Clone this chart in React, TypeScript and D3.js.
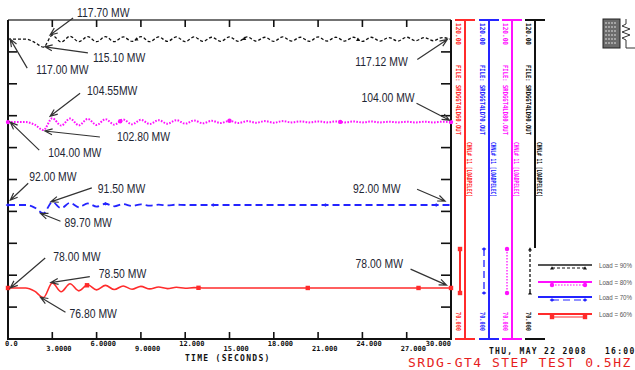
import React from "react";
import * as d3 from "d3";

// sample times (seconds) shared by all four channels
const time = [
  0, 1.2, 1.8, 2.4, 3.0, 3.6, 4.2, 4.8, 5.4, 6.0, 6.6, 7.2, 7.8, 8.4, 9.0, 9.6, 10.2, 10.8, 11.4, 12.0,
  12.6, 13.2, 13.8, 14.4, 15.0, 15.6, 16.2, 16.8, 17.4, 18.0, 18.6, 19.2, 19.8, 20.4, 21.0, 21.6, 22.2,
  22.8, 23.4, 24.0, 24.6, 25.2, 25.8, 26.4, 27.0, 27.6, 28.2, 28.8, 29.4, 30.0,
];

// electrical load (MW) per channel
const load90 = [
  117.0, 117.0, 116.5, 115.75, 117.6, 116.55, 117.45, 116.6, 117.4, 116.6, 117.4, 116.6, 117.35, 116.65,
  117.4, 116.6, 117.35, 116.65, 117.35, 116.6, 117.35, 116.65, 117.3, 116.65, 117.35, 116.65, 117.35, 116.7,
  117.3, 116.65, 117.35, 116.7, 117.3, 116.65, 117.35, 116.7, 117.3, 116.7, 117.3, 116.65, 117.3,
  116.7, 117.25, 116.7, 117.3, 116.75, 117.25, 116.75, 117.25, 116.95,
];
const load80 = [
  104.0, 104.0, 103.6, 102.75, 104.6, 103.45, 104.55, 103.5, 104.5, 103.55, 104.45, 103.6, 104.4, 103.65,
  104.35, 103.7, 104.3, 103.75, 104.3, 103.75, 104.25, 103.8, 104.2, 103.85, 104.2, 103.85, 104.15, 103.9,
  104.15, 103.9, 104.15, 103.95, 104.1, 103.95, 104.1, 103.95, 104.1, 103.95, 104.1, 103.95, 104.1,
  103.95, 104.05, 103.95, 104.05, 103.95, 104.05, 103.95, 104.05, 104.0,
];
const load70 = [
  91.0, 91.0, 90.6, 89.7, 91.5, 90.5, 91.35, 90.65, 91.25, 90.75, 91.2, 90.8, 91.15, 90.85, 91.1, 90.9,
  91.05, 90.95, 91.05, 91.0, 91.0, 91.0, 91.0, 91.0, 91.0, 91.0, 91.0, 91.0, 91.0, 91.0, 91.0, 91.0, 91.0,
  91.0, 91.0, 91.0, 91.0, 91.0, 91.0, 91.0, 91.0, 91.0, 91.0, 91.0, 91.0, 91.0, 91.0, 91.0, 91.0, 91.0,
];
const load60 = [
  78.0, 78.0, 77.5, 76.5, 78.8, 77.4, 78.65, 77.55, 78.5, 77.7, 78.4, 77.75, 78.3, 77.8, 78.25, 77.85,
  78.15, 77.9, 78.1, 77.95, 78.05, 78.0, 78.0, 78.0, 78.0, 78.0, 78.0, 78.0, 78.0, 78.0, 78.0, 78.0, 78.0,
  78.0, 78.0, 78.0, 78.0, 78.0, 78.0, 78.0, 78.0, 78.0, 78.0, 78.0, 78.0, 78.0, 78.0, 78.0, 78.0, 78.0,
];

// symbol positions along each trace (seconds)
const marks60 = [0, 5.35, 12.9, 20.3, 27.8, 30];
const marks70 = [0, 6.6, 13.9, 21.5, 29.0];
const marks80 = [0, 7.6, 15.0, 22.5, 30];
const marks90 = [8.7, 16.0, 23.7];

const xTickValues = [0, 3, 6, 9, 12, 15, 18, 21, 24, 27, 30];
const xTickLabels = ["0.0", "3.0000", "6.0000", "9.0000", "12.000", "15.000", "18.000", "21.000", "24.000", "27.000", "30.000"];
const yTickValues = [75, 80, 85, 90, 95, 100, 105, 110, 115];

const channelNames = ["Load = 60%", "Load = 70%", "Load = 80%", "Load = 90%"];
const channelFiles = ["FILE: SRDGGT4LD60.OUT", "FILE: SRDGGT4LD70.OUT", "FILE: SRDGGT4LD80.OUT", "FILE: SRDGGT4LD90.OUT"];
const channelLabel = "CHNL# 11 [LOADPELEC]";
const axisMax = "120.00";
const axisMin = "70.000";

// callouts: text, point in data (seconds, MW)
const calloutText = [
  "117.70 MW", "115.10 MW", "117.00 MW", "104.55MW", "104.00 MW", "102.80 MW", "92.00 MW", "91.50 MW",
  "89.70 MW", "78.00 MW", "78.50 MW", "76.80 MW", "117.12 MW", "104.00 MW", "92.00 MW", "78.00 MW",
];
const calloutTime = [2.85, 2.5, 0.15, 2.85, 0.15, 2.5, 0.15, 2.9, 2.2, 0.15, 2.9, 2.2, 29.75, 29.9, 29.6, 29.7];
const calloutValue = [117.65, 115.8, 117.0, 104.9, 104.0, 102.6, 91.75, 91.5, 89.7, 78.0, 78.85, 76.55, 116.95, 104.3, 91.6, 78.45];

// pixel offsets from arrow head: [tailDx, tailDy, textDx, textDy]
const calloutLayout = [
  [23, -17, 27, -18], [43, 6, 48, 15], [17, 29, 26, 35], [30, -23, 37, -21],
  [29, 28, 38, 35], [55, 6, 72, 10], [18, -17, 19, -19], [41, -14, 47, -9],
  [20, 8, 24, 14], [35, -30, 43, -27], [39, -6, 48, -5], [25, 15, 29, 21],
  [-30, 20, -92, 27], [-33, -17, -88, -18], [-28, -12, -92, -8], [-36, -16, -91, -17],
];

const styles = [
  { color: "#ff2b2b", width: 1.6, dash: undefined as string | undefined, marker: "square", lineX: 465 },
  { color: "#2424ff", width: 1.8, dash: "7,4", marker: "diamond", lineX: 489 },
  { color: "#ff10ff", width: 2, dash: "1.6,1.4", marker: "dot", lineX: 512 },
  { color: "#111111", width: 1.3, dash: "3,2", marker: "tri", lineX: 535 },
];

const mono = "'DejaVu Sans Mono', monospace";
const sans = "'Liberation Sans', Arial, sans-serif";

function Arrow({ x1, y1, x2, y2 }: { x1: number; y1: number; x2: number; y2: number }) {
  const a = Math.atan2(y2 - y1, x2 - x1);
  const L = 8;
  const s = 0.38;
  const p1 = [x2 - L * Math.cos(a - s), y2 - L * Math.sin(a - s)];
  const p2 = [x2 - L * Math.cos(a + s), y2 - L * Math.sin(a + s)];
  return (
    <path
      d={`M${x1},${y1}L${x2},${y2}M${p1[0]},${p1[1]}L${x2},${y2}L${p2[0]},${p2[1]}`}
      fill="none"
      stroke="#333"
      strokeWidth={1.2}
    />
  );
}

function Marker({ kind, cx, cy, color }: { kind: string; cx: number; cy: number; color: string }) {
  if (kind === "square") return <rect x={cx - 2.2} y={cy - 2.2} width={4.4} height={4.4} fill={color} />;
  if (kind === "dot") return <circle cx={cx} cy={cy} r={2.2} fill={color} />;
  if (kind === "diamond")
    return <path d={`M${cx - 2.4},${cy}L${cx},${cy - 1.8}L${cx + 2.4},${cy}L${cx},${cy + 1.8}Z`} fill={color} />;
  return <path d={`M${cx - 2},${cy + 1.6}L${cx},${cy - 1.8}L${cx + 2},${cy + 1.6}Z`} fill={color} />;
}

export default function App() {
  const x = d3.scaleLinear().domain([0, 30]).range([8, 451]);
  const y = d3.scaleLinear().domain([70, 120]).range([339, 20]);

  const series = [load60, load70, load80, load90];
  const marks = [marks60, marks70, marks80, marks90];

  const line = d3
    .line<number>()
    .x((_, i) => x(time[i]))
    .y((d) => y(d))
    .curve(d3.curveMonotoneX);

  const valueAt = (vals: number[], t: number) => {
    const i = Math.min(Math.max(d3.bisectRight(time, t), 1), time.length - 1);
    const f = (t - time[i - 1]) / (time[i] - time[i - 1]);
    return vals[i - 1] + (vals[i] - vals[i - 1]) * Math.min(Math.max(f, 0), 1);
  };

  const legendY = [314, 297, 282, 265];

  return (
    <div style={{ position: "fixed", left: 0, top: 0 }}>
      <svg width={635} height={370} style={{ display: "block", background: "#fff" }}>
        {/* frame */}
        <line x1={8} x2={451} y1={20} y2={20} stroke="#444" strokeWidth={1.5} />
        <line x1={8} x2={451} y1={339} y2={339} stroke="#111" strokeWidth={2} />
        <line x1={8} x2={8} y1={20} y2={340} stroke="#111" strokeWidth={2} />
        <line x1={451} x2={451} y1={20} y2={340} stroke="#111" strokeWidth={2} />

        {xTickValues.slice(1, -1).map((t) => (
          <g key={`xt${t}`} stroke="#111" strokeWidth={1.6}>
            <line x1={x(t)} x2={x(t)} y1={20} y2={27} />
            <line x1={x(t)} x2={x(t)} y1={339} y2={332} />
          </g>
        ))}
        {yTickValues.map((v) => (
          <g key={`yt${v}`} stroke="#111" strokeWidth={1.6}>
            <line x1={8} x2={17} y1={y(v)} y2={y(v)} />
            <line x1={451} x2={441} y1={y(v)} y2={y(v)} />
          </g>
        ))}

        {xTickValues.map((t, i) => (
          <text
            key={`xl${t}`}
            x={i === xTickValues.length - 1 ? x(t) : Math.max(x(t) - 6, 5)}
            y={i % 2 === 0 ? 346 : 351}
            textAnchor={i === xTickValues.length - 1 ? "end" : "start"}
            fontFamily={mono}
            fontWeight="bold"
            fontSize={7}
            fill="#111"
          >
            {xTickLabels[i]}
          </text>
        ))}
        <text x={185} y={361} fontFamily={mono} fontWeight="bold" fontSize={8} letterSpacing={1.3} fill="#111">
          TIME (SECONDS)
        </text>

        {/* traces */}
        {series.map((vals, k) => (
          <g key={`s${k}`}>
            <path
              d={line(vals) ?? ""}
              fill="none"
              stroke={styles[k].color}
              strokeWidth={styles[k].width}
              strokeDasharray={styles[k].dash}
            />
            {marks[k].map((t) => (
              <Marker key={t} kind={styles[k].marker} cx={x(t)} cy={y(valueAt(vals, t))} color={styles[k].color} />
            ))}
          </g>
        ))}

        {/* callouts */}
        {calloutText.map((txt, i) => {
          const hx = x(calloutTime[i]);
          const hy = y(calloutValue[i]);
          const [tdx, tdy, ldx, ldy] = calloutLayout[i];
          return (
            <g key={`c${i}`}>
              <Arrow x1={hx + tdx} y1={hy + tdy} x2={hx} y2={hy} />
              <text
                transform={`translate(${hx + ldx},${hy + ldy}) scale(0.8,1)`}
                fontFamily={sans}
                fontSize={13}
                fill="#1e2633"
              >
                {txt}
              </text>
            </g>
          );
        })}

        {/* channel axes on the right */}
        {styles.map((s, k) => {
          const lx = s.lineX;
          const bottom = k === 3 ? 248 : 339;
          const sx = lx - 5;
          const rot = (tx: number, ty: number, str: string, len: number, key: string) => (
            <text
              key={key}
              transform={`translate(${tx},${ty}) rotate(90)`}
              fontFamily={mono}
              fontWeight="bold"
              fontSize={7}
              fill={s.color}
              textLength={len}
              lengthAdjust="spacingAndGlyphs"
            >
              {str}
            </text>
          );
          return (
            <g key={`ch${k}`}>
              <line x1={lx - 10} x2={lx + 10} y1={20} y2={20} stroke={s.color} strokeWidth={2} />
              <line x1={lx - 10} x2={lx + 10} y1={339} y2={339} stroke={s.color} strokeWidth={2} />
              <line x1={lx} x2={lx} y1={20} y2={bottom} stroke={s.color} strokeWidth={2} />
              {rot(lx - 9.5, 23, axisMax, 22, "a")}
              {rot(lx - 9.5, 65, channelFiles[k], 70, "f")}
              {rot(lx + 1.5, 142, channelLabel, 55, "c")}
              {rot(lx - 9.5, 312, axisMin, 19, "b")}
              <line
                x1={sx}
                x2={sx}
                y1={249}
                y2={293}
                stroke={s.color}
                strokeWidth={k === 0 ? 2 : 1.3}
                strokeDasharray={s.dash}
              />
              <Marker kind={s.marker} cx={sx} cy={249} color={s.color} />
              <Marker kind={s.marker} cx={sx} cy={293} color={s.color} />
            </g>
          );
        })}

        {/* legend */}
        {styles.map((s, k) => (
          <g key={`lg${k}`}>
            <line
              x1={538}
              x2={592}
              y1={legendY[k]}
              y2={legendY[k]}
              stroke={k === 3 ? "#555" : s.color}
              strokeWidth={1.8}
            />
            <line
              x1={552}
              x2={585}
              y1={legendY[k] + 3}
              y2={legendY[k] + 3}
              stroke={s.color}
              strokeWidth={1.2}
              strokeDasharray={s.dash}
            />
            <Marker kind={s.marker} cx={552} cy={legendY[k] + 3} color={s.color} />
            <Marker kind={s.marker} cx={585} cy={legendY[k] + 3} color={s.color} />
            <text
              transform={`translate(599,${legendY[k] + 3}) scale(0.88,1)`}
              fontFamily={sans}
              fontSize={7}
              fill="#555"
            >
              {channelNames[k]}
            </text>
          </g>
        ))}

        {/* logo block */}
        <rect x={603} y={19} width={17} height={29} fill="#6b6b6b" stroke="#222" strokeWidth={1} />
        {[23, 27, 31, 35, 39, 43].map((yy) => (
          <line key={yy} x1={605} x2={617} y1={yy} y2={yy} stroke="#ddd" strokeWidth={1.2} strokeDasharray="2,1" />
        ))}
        <path
          d="M626,19L626,24L622,26L630,29L622,32L630,35L622,38L626,40L626,48M626,48L635,48"
          fill="none"
          stroke="#333"
          strokeWidth={1}
        />

        {/* footer */}
        <text x={489} y={354} fontFamily={mono} fontWeight="bold" fontSize={8} letterSpacing={1.3} fill="#111">
          THU, MAY 22 2008
        </text>
        <text x={605} y={354} fontFamily={mono} fontWeight="bold" fontSize={8} letterSpacing={1.3} fill="#111">
          16:00
        </text>
        <text x={408} y={367} fontFamily={mono} fontSize={13} letterSpacing={1.5} fill="#e61e1e">
          SRDG-GT4 STEP TEST 0.5HZ
        </text>
      </svg>
    </div>
  );
}
